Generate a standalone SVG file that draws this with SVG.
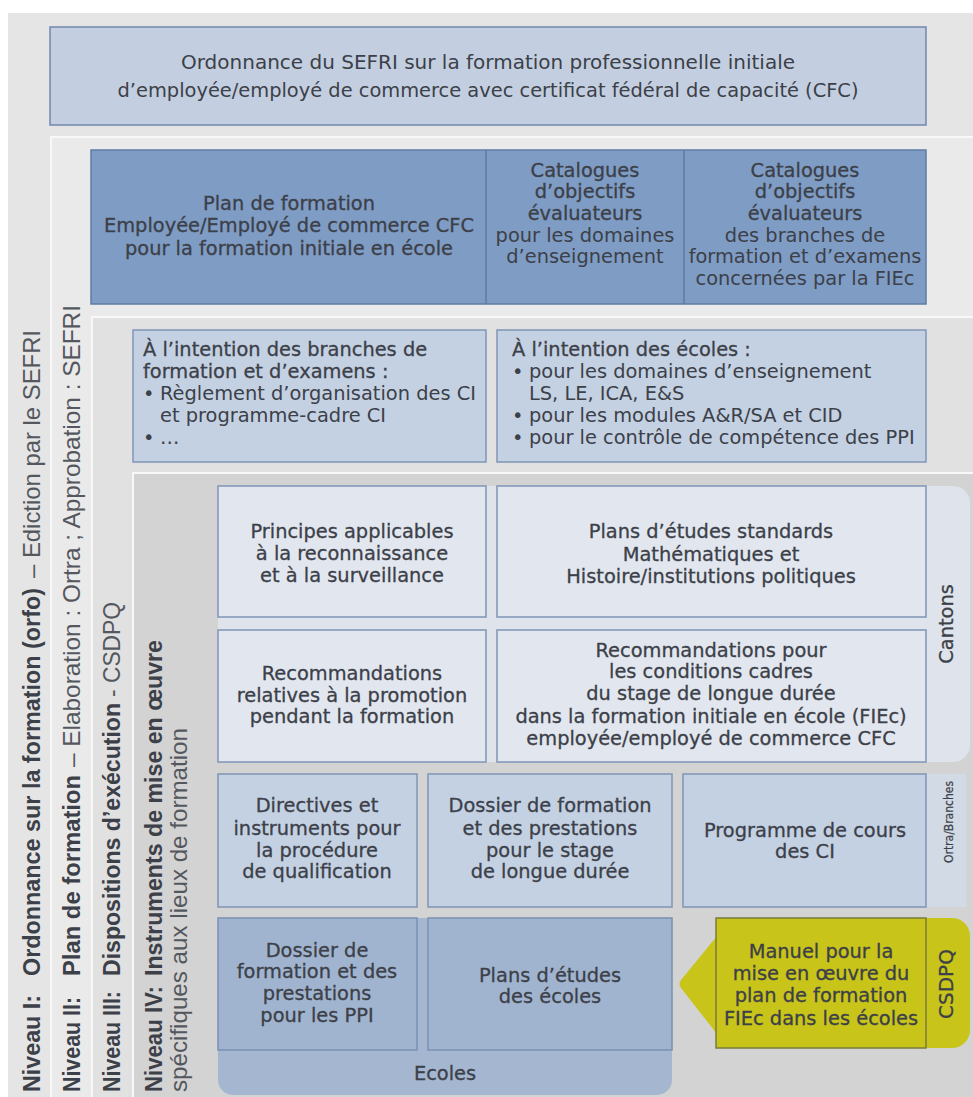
<svg xmlns="http://www.w3.org/2000/svg" width="973" height="1097" viewBox="0 0 973 1097">
<style>
.t{font-family:"DejaVu Sans","Liberation Sans",sans-serif;font-size:19.4px;fill:#3c4048;text-anchor:middle}
.l{text-anchor:start}
.m{stroke:#3c4048;stroke-width:0.3px}
.v{font-family:"Liberation Sans",Arial,sans-serif;font-size:24px;fill:#3c4048}
.vr{fill:#54585e}
.vb{font-weight:bold}
.box{stroke-width:1.5}
.lb{fill:#c4d1e3;stroke:#7f95b5}
.cb{fill:#e2e7ef;stroke:#7f95b5}
.eb{fill:#a1b4cf;stroke:#7a91b3}
</style>
<rect x="0" y="0" width="973" height="1097" fill="#ffffff"/>
<g id="panels">
<rect x="8" y="13" width="965" height="1084" fill="#e5e5e5"/>
<rect x="51" y="137" width="924" height="962" fill="#eaeaea" stroke="#f8f8f8" stroke-width="2"/>
<rect x="92" y="317" width="883" height="782" fill="#e1e1e1" stroke="#f8f8f8" stroke-width="2"/>
<rect x="133" y="473" width="842" height="626" fill="#d3d3d3" stroke="#f8f8f8" stroke-width="2"/>
</g>
<g id="level-labels">
<text class="v vb" transform="translate(40,1092) rotate(-90)" textLength="97" lengthAdjust="spacingAndGlyphs">Niveau I:</text>
<text class="v vb" transform="translate(40,976) rotate(-90)" textLength="388" lengthAdjust="spacingAndGlyphs">Ordonnance sur la formation (orfo)</text>
<text class="v vr" transform="translate(40,578) rotate(-90)" textLength="248" lengthAdjust="spacingAndGlyphs">– Ediction par le SEFRI</text>
<text class="v vb" transform="translate(80,1092) rotate(-90)" textLength="95" lengthAdjust="spacingAndGlyphs">Niveau II:</text>
<text class="v vb" transform="translate(80,976) rotate(-90)" textLength="201" lengthAdjust="spacingAndGlyphs">Plan de formation</text>
<text class="v vr" transform="translate(80,767) rotate(-90)" textLength="462" lengthAdjust="spacingAndGlyphs">– Elaboration : Ortra ; Approbation : SEFRI</text>
<text class="v vb" transform="translate(120,1092) rotate(-90)" textLength="101" lengthAdjust="spacingAndGlyphs">Niveau III:</text>
<text class="v vb" transform="translate(120,976) rotate(-90)" textLength="273" lengthAdjust="spacingAndGlyphs">Dispositions d’exécution</text>
<text class="v vr" transform="translate(120,697) rotate(-90)" textLength="95" lengthAdjust="spacingAndGlyphs">- CSDPQ</text>
<text class="v vb" transform="translate(162,1092) rotate(-90)" textLength="106" lengthAdjust="spacingAndGlyphs">Niveau IV:</text>
<text class="v vb" transform="translate(162,976) rotate(-90)" textLength="336" lengthAdjust="spacingAndGlyphs">Instruments de mise en œuvre</text>
<text class="v vr" transform="translate(187,1092) rotate(-90)" textLength="364" lengthAdjust="spacingAndGlyphs">spécifiques aux lieux de formation</text>
</g>
<g id="orfo">
<rect class="box" x="50" y="27" width="876" height="98" fill="#c3cfe0" stroke="#7189ab"/>
<text class="t" x="488" y="69" textLength="614" lengthAdjust="spacingAndGlyphs">Ordonnance du SEFRI sur la formation professionnelle initiale</text>
<text class="t" x="488" y="97" textLength="741" lengthAdjust="spacingAndGlyphs">d’employée/employé de commerce avec certificat fédéral de capacité (CFC)</text>
</g>
<g id="plan-formation">
<rect class="box" x="91" y="150" width="835" height="154" fill="#7f9cc5" stroke="#5e7ba6"/>
<text class="t m" x="289" y="210">Plan de formation</text>
<text class="t m" x="289" y="232">Employée/Employé de commerce CFC</text>
<text class="t m" x="289" y="255">pour la formation initiale en école</text>
</g>
<g id="catalogues-domaines">
<line x1="486" y1="150" x2="486" y2="304" stroke="#5e7ba6" stroke-width="1.5"/>
<text class="t m" x="585" y="177">Catalogues</text>
<text class="t m" x="585" y="198">d’objectifs</text>
<text class="t m" x="585" y="220">évaluateurs</text>
<text class="t" x="585" y="242">pour les domaines</text>
<text class="t" x="585" y="263">d’enseignement</text>
</g>
<g id="catalogues-branches">
<line x1="684" y1="150" x2="684" y2="304" stroke="#5e7ba6" stroke-width="1.5"/>
<text class="t m" x="805" y="177">Catalogues</text>
<text class="t m" x="805" y="198">d’objectifs</text>
<text class="t m" x="805" y="220">évaluateurs</text>
<text class="t" x="805" y="242">des branches de</text>
<text class="t" x="805" y="263">formation et d’examens</text>
<text class="t" x="805" y="285">concernées par la FIEc</text>
</g>
<g id="branches">
<rect class="box lb" x="133" y="330" width="353" height="132"/>
<text class="t l m" x="143" y="356">À l’intention des branches de</text>
<text class="t l m" x="143" y="378">formation et d’examens :</text>
<text class="t l" x="143" y="400">•<tspan x="160">Règlement d’organisation des CI</tspan></text>
<text class="t l" x="160" y="422">et programme-cadre CI</text>
<text class="t l" x="143" y="444">•<tspan x="160">…</tspan></text>
</g>
<g id="ecoles-intention">
<rect class="box lb" x="497" y="330" width="429" height="132"/>
<text class="t l m" x="512" y="356">À l’intention des écoles :</text>
<text class="t l" x="512" y="378">•<tspan x="529">pour les domaines d’enseignement</tspan></text>
<text class="t l" x="529" y="400">LS, LE, ICA, E&amp;S</text>
<text class="t l" x="512" y="422">•<tspan x="529">pour les modules A&amp;R/SA et CID</tspan></text>
<text class="t l" x="512" y="444">•<tspan x="529">pour le contrôle de compétence des PPI</tspan></text>
</g>
<g id="cantons">
<path d="M218,486 H953 A17,17 0 0 1 970,503 V745 A17,17 0 0 1 953,762 H218 Z" fill="#dfe4ec"/>
<text class="t m" transform="translate(953,624) rotate(-90)" x="0" y="0">Cantons</text>
</g>
<g id="principes">
<rect class="box cb" x="218" y="486" width="268" height="131"/>
<text class="t m" x="352" y="538">Principes applicables</text>
<text class="t m" x="352" y="560">à la reconnaissance</text>
<text class="t m" x="352" y="582">et à la surveillance</text>
</g>
<g id="plans-standards">
<rect class="box cb" x="497" y="486" width="429" height="131"/>
<text class="t m" x="711" y="538">Plans d’études standards</text>
<text class="t m" x="711" y="561">Mathématiques et</text>
<text class="t m" x="711" y="583">Histoire/institutions politiques</text>
</g>
<g id="promotion">
<rect class="box cb" x="218" y="630" width="268" height="132"/>
<text class="t m" x="352" y="680">Recommandations</text>
<text class="t m" x="352" y="702">relatives à la promotion</text>
<text class="t m" x="352" y="723">pendant la formation</text>
</g>
<g id="stage-conditions">
<rect class="box cb" x="497" y="630" width="429" height="132"/>
<text class="t m" x="711" y="657">Recommandations pour</text>
<text class="t m" x="711" y="678">les conditions cadres</text>
<text class="t m" x="711" y="700">du stage de longue durée</text>
<text class="t m" x="711" y="723">dans la formation initiale en école (FIEc)</text>
<text class="t m" x="711" y="745">employée/employé de commerce CFC</text>
</g>
<g id="ortra">
<rect x="926" y="774" width="40" height="133" fill="#d2dae5"/>
<text class="t m" transform="translate(953,822) rotate(-90)" style="font-size:13px;stroke-width:0.2px" textLength="82" lengthAdjust="spacingAndGlyphs">Ortra/Branches</text>
</g>
<g id="directives">
<rect class="box lb" x="218" y="774" width="199" height="133"/>
<text class="t m" x="317" y="812">Directives et</text>
<text class="t m" x="317" y="835">instruments pour</text>
<text class="t m" x="317" y="857">la procédure</text>
<text class="t m" x="317" y="878">de qualification</text>
</g>
<g id="dossier-stage">
<rect class="box lb" x="428" y="774" width="244" height="133"/>
<text class="t m" x="550" y="812">Dossier de formation</text>
<text class="t m" x="550" y="835">et des prestations</text>
<text class="t m" x="550" y="857">pour le stage</text>
<text class="t m" x="550" y="878">de longue durée</text>
</g>
<g id="programme-ci">
<rect class="box lb" x="683" y="774" width="243" height="133"/>
<text class="t m" x="805" y="837">Programme de cours</text>
<text class="t m" x="805" y="858">des CI</text>
</g>
<g id="ecoles">
<path d="M218,918 H672 V1080 A15,15 0 0 1 657,1095 H233 A15,15 0 0 1 218,1080 Z" fill="#a4b6d0"/>
<text class="t m" x="445" y="1080">Ecoles</text>
</g>
<g id="dossier-ppi">
<rect class="box eb" x="218" y="918" width="199" height="132"/>
<text class="t m" x="317" y="957">Dossier de</text>
<text class="t m" x="317" y="978">formation et des</text>
<text class="t m" x="317" y="1000">prestations</text>
<text class="t m" x="317" y="1022">pour les PPI</text>
</g>
<g id="plans-ecoles">
<rect class="box eb" x="428" y="918" width="244" height="132"/>
<text class="t m" x="550" y="982">Plans d’études</text>
<text class="t m" x="550" y="1003">des écoles</text>
</g>
<g id="csdpq">
<path d="M716,918 H952 A18,18 0 0 1 970,936 V1030 A18,18 0 0 1 952,1048 H716 Z" fill="#c8c41a"/>
<text class="t m" transform="translate(953,984) rotate(-90)" style="font-size:20px">CSDPQ</text>
</g>
<g id="connectors">
<path d="M717,936 L717,1034 L681,988 Q678,984 681,980 Z" fill="#c8c41a"/>
</g>
<g id="manuel">
<rect class="box" x="716" y="918" width="210" height="130" fill="#c8c41a" stroke="#7a7c3c"/>
<text class="t m" x="821" y="958">Manuel pour la</text>
<text class="t m" x="821" y="980">mise en œuvre du</text>
<text class="t m" x="821" y="1002">plan de formation</text>
<text class="t m" x="821" y="1025">FIEc dans les écoles</text>
</g>
</svg>
